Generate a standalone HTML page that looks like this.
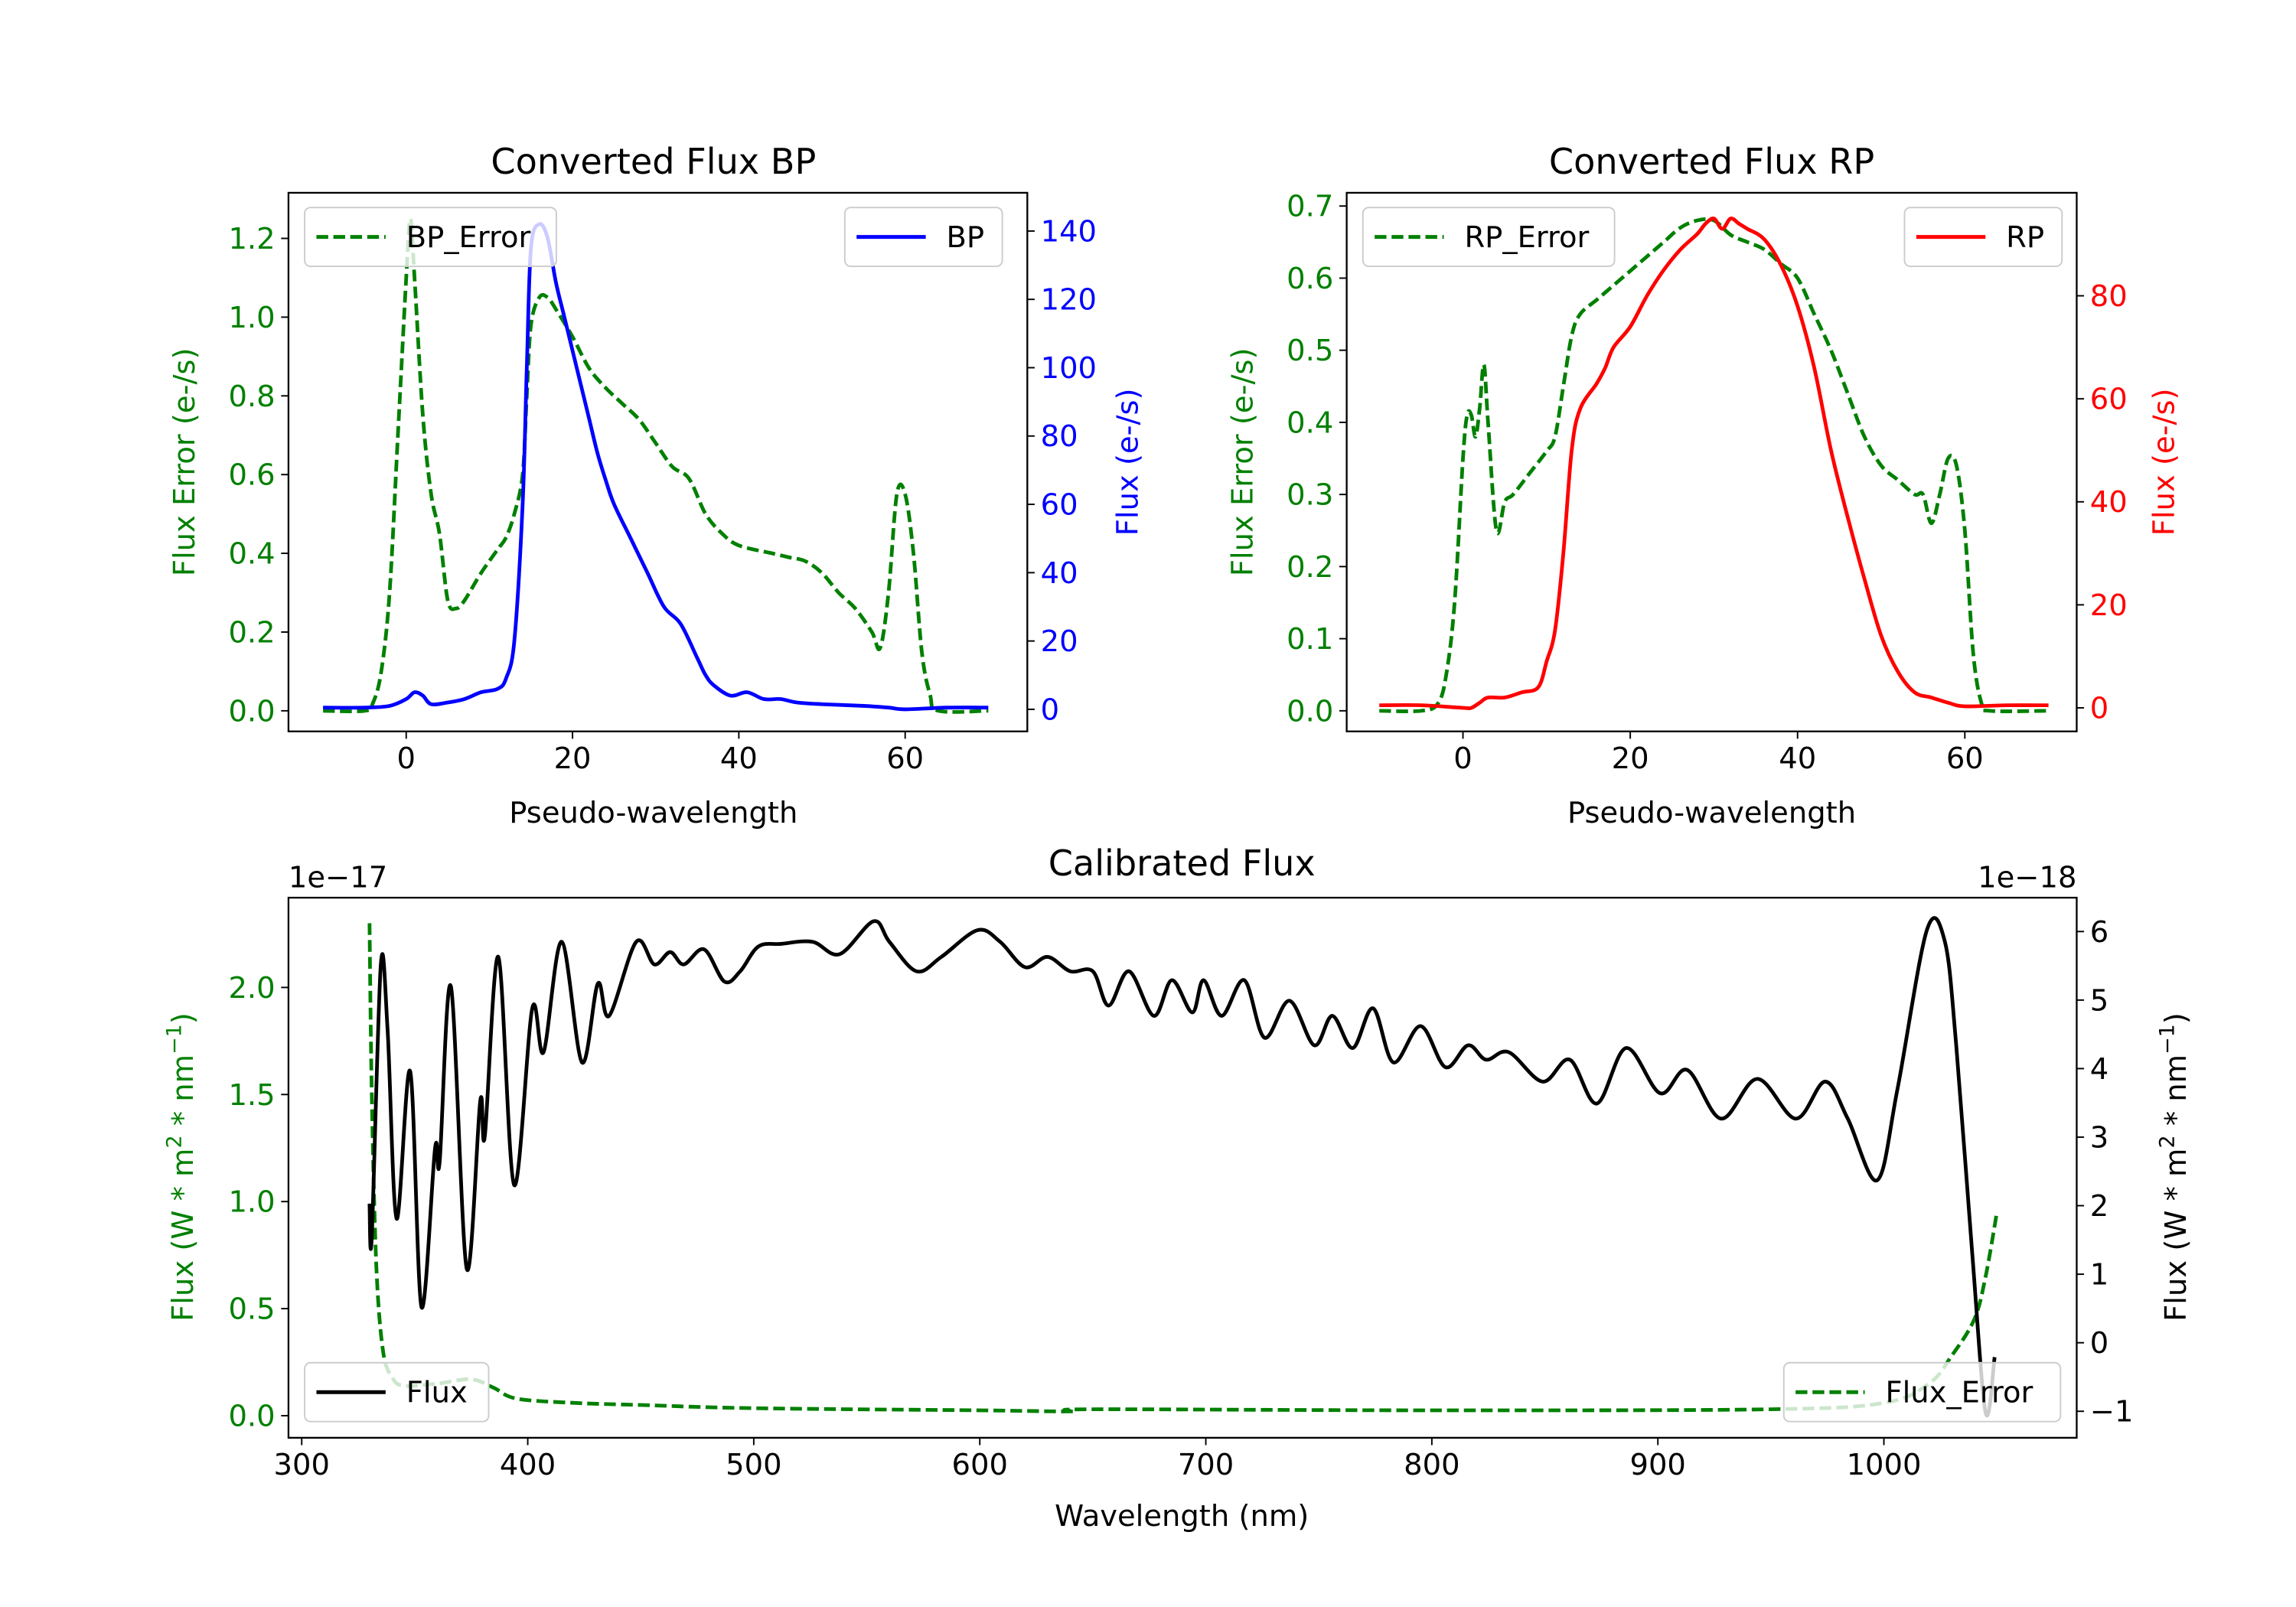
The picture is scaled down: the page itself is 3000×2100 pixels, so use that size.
<!DOCTYPE html>
<html><head><meta charset="utf-8">
<style>
html,body{margin:0;padding:0;background:#fff;}
svg{display:block;font-family:"DejaVu Sans","Liberation Sans",sans-serif;}
</style></head>
<body>
<svg id="fig" width="3000" height="2100" viewBox="0 0 1560 1092" preserveAspectRatio="none" xmlns="http://www.w3.org/2000/svg">
<rect width="1560" height="1092" fill="#fff"/>
</svg>
<script>
// ---------- data ----------
const bpX = [-10,-5,-2,0,1,2,3,5,7,9,11,12,13,14,14.5,15,16,17,18,19,20,21,22,23,24,25,27,29,31,33,35,36,37,39,41,43,45,47,50,55,58,60,65,70];
const bpFlux = [0.5,0.5,1,3,5,4,1.5,2,3,5,6,9,20,60,100,135,142,138,125,115,105,95,85,75,67,60,50,40,30,25,15,10,7,4,5,3,3,2,1.5,1,0.5,0,0.5,0.5];
const bpErrX = [-10,-5,-4,-3,-2,-1,0,0.5,1,2,3,4,5,6,7,9,11,12,13,14,14.5,15,16,17,18,20,22,24,26,28,30,32,34,36,38,40,44,46,48,50,52,54,56,57,58,59,60,61,62,63,64,70];
const bpErr = [0,0,0.02,0.1,0.3,0.7,1.1,1.25,1.1,0.75,0.55,0.45,0.28,0.26,0.28,0.35,0.41,0.44,0.5,0.6,0.8,0.98,1.05,1.05,1.02,0.95,0.87,0.82,0.78,0.74,0.68,0.62,0.59,0.5,0.45,0.42,0.4,0.39,0.38,0.35,0.3,0.26,0.2,0.16,0.3,0.55,0.55,0.4,0.15,0.04,0,0];
const rpX = [-10,-5,0,1,2,3,5,7,9,10,11,12,13,14,16,17,18,20,22,24,26,28,29,30,31,32,33,34,36,38,40,42,44,46,48,50,52,54,56,58,60,65,70];
const rpFlux = [0.5,0.5,0,0,1,2,2,3,4,9,15,30,50,58,63,66,70,74,80,85,89,92,94,95,93,95,94,93,91,86,78,66,50,37,25,14,7,3,2,1,0.3,0.5,0.5];
const rpErrX = [-10,-5,-3,-2,-1,0,0.5,1,1.5,2,2.5,3,4,5,6,8,10,11,12,13,14,16,18,20,22,24,26,28,30,32,34,36,38,40,42,44,46,48,50,52,54,55,56,57,58,59,60,61,62,63,70];
const rpErr = [0,0,0.01,0.05,0.15,0.35,0.41,0.41,0.38,0.42,0.48,0.4,0.25,0.29,0.3,0.33,0.36,0.38,0.45,0.52,0.55,0.57,0.59,0.61,0.63,0.65,0.67,0.68,0.68,0.66,0.65,0.64,0.62,0.6,0.55,0.5,0.44,0.38,0.34,0.32,0.3,0.3,0.26,0.3,0.35,0.34,0.25,0.08,0.01,0,0];
const calWl = [330,331,335,338,342,348,353,359,361,366,373,379,381,387,394,402,407,415,424,431,436,448,456,463,469,478,487,494,502,512,526,538,553,560,572,583,599,609,620,630,640,650,657,666,677,685,694,699,707,717,726,737,748,756,765,774,783,795,806,816,824,834,849,861,873,886,901,913,928,944,961,974,984,997,1006,1019,1027,1032,1039,1045,1049];
const calFlux = [2.03,1.55,5.52,4.56,1.81,3.96,0.52,2.84,2.63,5.2,1.08,3.53,3.01,5.63,2.3,4.88,4.24,5.85,4.09,5.24,4.77,5.85,5.52,5.7,5.52,5.74,5.27,5.42,5.78,5.82,5.85,5.67,6.15,5.85,5.42,5.63,6.02,5.85,5.48,5.63,5.42,5.42,4.92,5.42,4.77,5.29,4.82,5.29,4.77,5.29,4.45,4.99,4.34,4.77,4.3,4.88,4.09,4.62,4.02,4.34,4.13,4.24,3.81,4.13,3.49,4.3,3.64,3.98,3.27,3.85,3.27,3.81,3.27,2.37,3.7,6.02,5.85,4.34,1.34,-1.02,-0.21];
const errWl = [330,331,333,336,340,345,360,375,385,395,420,450,500,600,640,650,800,950,1000,1020,1030,1040,1045,1050];
const calErr = [2.3,1.5,0.7,0.3,0.18,0.14,0.15,0.17,0.13,0.08,0.06,0.05,0.035,0.025,0.02,0.03,0.025,0.03,0.06,0.15,0.28,0.45,0.65,0.95];
const bpXTicks = [0,20,40,60], bpLTicks = ["0.0","0.2","0.4","0.6","0.8","1.0","1.2"], bpRTicks = [0,20,40,60,80,100,120,140];
const rpXTicks = [0,20,40,60], rpLTicks = ["0.0","0.1","0.2","0.3","0.4","0.5","0.6","0.7"], rpRTicks = [0,20,40,60,80];
const calXTicks = [300,400,500,600,700,800,900,1000], calLTicks = ["0.0","0.5","1.0","1.5","2.0"], calRTicks = [-1,0,1,2,3,4,5,6];

// ---------- helpers ----------
const NS = "http://www.w3.org/2000/svg";
const FS = 20;
const svg = document.getElementById('fig');
function mk(tag, attrs, parent){ const e=document.createElementNS(NS,tag); for(const k in attrs) e.setAttribute(k,attrs[k]); (parent||svg).appendChild(e); return e; }
function txt(s, x, y, attrs, parent){ const t=mk('text',Object.assign({x:x,y:y,'font-size':FS},attrs),parent); t.textContent=s; return t; }
function lin(d0,d1,p0,p1){ return v=>p0+(v-d0)*(p1-p0)/(d1-d0); }
function smoothD(xs, ys, fx, fy){
  const P = xs.map((x,i)=>[fx(x),fy(ys[i])]);
  let d='M'+P[0][0]+','+P[0][1];
  for(let i=0;i<P.length-1;i++){
    const p0=P[Math.max(i-1,0)],p1=P[i],p2=P[i+1],p3=P[Math.min(i+2,P.length-1)];
    const c1=[p1[0]+(p2[0]-p0[0])/6,p1[1]+(p2[1]-p0[1])/6], c2=[p2[0]-(p3[0]-p1[0])/6,p2[1]-(p3[1]-p1[1])/6];
    d+='C'+c1[0].toFixed(2)+','+c1[1].toFixed(2)+' '+c2[0].toFixed(2)+','+c2[1].toFixed(2)+' '+p2[0].toFixed(2)+','+p2[1].toFixed(2);
  }
  return d;
}
function frame(g,x0,y0,x1,y1){ return mk('rect',{x:x0,y:y0,width:x1-x0,height:y1-y0,fill:'none',stroke:'#000','stroke-width':1.2},g); }
function xTicks(g,ticks,fx,yb){ ticks.forEach(t=>{ const x=fx(t); mk('line',{x1:x,y1:yb,x2:x,y2:yb+5,stroke:'#000','stroke-width':1},g); const l=txt(String(t),x,yb+25,{'text-anchor':'middle'},g);   }); }
function yTicksL(g,labels,fy,xl,col){ labels.forEach(s=>{ const y=fy(parseFloat(s)); mk('line',{x1:xl-5,y1:y,x2:xl,y2:y,stroke:'#000','stroke-width':1},g); const l=txt(s,xl-9,y+7,{'text-anchor':'end',fill:col},g);   }); }
function yTicksR(g,vals,fy,xr,col){ vals.forEach(v=>{ const y=fy(v); mk('line',{x1:xr,y1:y,x2:xr+5,y2:y,stroke:'#000','stroke-width':1},g); const l=txt(String(v).replace('-','\u2212'),xr+9,y+7,{'text-anchor':'start',fill:col},g);   }); }
function legend(g,x,y,w,label,col,dash,name){
  const lg=mk('g',{},g);
  
  
  mk('rect',{x:x,y:y,width:w,height:40,rx:4,fill:'#fff','fill-opacity':0.8,stroke:'#ccc','stroke-width':1},lg);
  mk('line',{x1:x+8,y1:y+20,x2:x+55,y2:y+20,stroke:col,'stroke-width':2.6,'stroke-dasharray':dash?'8,3.5':'none'},lg);
  txt(label,x+69,y+27,{},lg);
}
function vlabel(g,s,x,y,col,name){ const t=txt(s,x,y,{'text-anchor':'middle',fill:col,transform:'rotate(-90 '+x+' '+y+')'},g);   return t; }

// ---------- BP panel ----------
(function(){
  const g=mk('g',{});  
  const fx=lin(0,60,276,615), fyL=lin(0,1.2,483,162), fyR=lin(0,140,482,157);
  const clip=mk('clipPath',{id:'c1'},g); mk('rect',{x:196,y:131,width:502,height:366},clip);
  const e=mk('path',{d:smoothD(bpErrX,bpErr,fx,fyL),fill:'none',stroke:'green','stroke-width':2.5,'stroke-dasharray':'8,3.5','clip-path':'url(#c1)'},g);
   
  const f=mk('path',{d:smoothD(bpX,bpFlux,fx,fyR),fill:'none',stroke:'blue','stroke-width':2.5,'clip-path':'url(#c1)'},g);
   
  frame(g,196,131,698,497);
  xTicks(g,bpXTicks,fx,497); yTicksL(g,bpLTicks,fyL,196,'green'); yTicksR(g,bpRTicks,fyR,698,'blue');
  legend(g,207,141,171,'BP_Error','green',true,'bp-error-legend');
  legend(g,574,141,107,'BP','blue',false,'bp-legend');
  const t=txt('Converted Flux BP',444,118,{'text-anchor':'middle','font-size':24},g);  
  const xl=txt('Pseudo-wavelength',444,559,{'text-anchor':'middle'},g);  
  vlabel(g,'Flux Error (e-/s)',132,314,'green','bp-left-y-axis-title');
  vlabel(g,'Flux (e-/s)',773,314,'blue','bp-right-y-axis-title');
})();

// ---------- RP panel ----------
(function(){
  const g=mk('g',{});  
  const fx=lin(0,60,994,1335), fyL=lin(0,0.7,483,140), fyR=lin(0,80,481,201);
  const clip=mk('clipPath',{id:'c2'},g); mk('rect',{x:915,y:131,width:496,height:366},clip);
  const e=mk('path',{d:smoothD(rpErrX,rpErr,fx,fyL),fill:'none',stroke:'green','stroke-width':2.5,'stroke-dasharray':'8,3.5','clip-path':'url(#c2)'},g);
   
  const f=mk('path',{d:smoothD(rpX,rpFlux,fx,fyR),fill:'none',stroke:'red','stroke-width':2.5,'clip-path':'url(#c2)'},g);
   
  frame(g,915,131,1411,497);
  xTicks(g,rpXTicks,fx,497); yTicksL(g,rpLTicks,fyL,915,'green'); yTicksR(g,rpRTicks,fyR,1411,'red');
  legend(g,926,141,171,'RP_Error','green',true,'rp-error-legend');
  legend(g,1294,141,107,'RP','red',false,'rp-legend');
  const t=txt('Converted Flux RP',1163,118,{'text-anchor':'middle','font-size':24},g);  
  const xl=txt('Pseudo-wavelength',1163,559,{'text-anchor':'middle'},g);  
  vlabel(g,'Flux Error (e-/s)',851,314,'green','rp-left-y-axis-title');
  vlabel(g,'Flux (e-/s)',1477,314,'red','rp-right-y-axis-title');
})();

// ---------- Calibrated panel ----------
(function(){
  const g=mk('g',{});  
  const fx=lin(300,1000,205,1280), fyL=lin(0,2,962,671), fyR=lin(-1,6,959,633);
  const clip=mk('clipPath',{id:'c3'},g); mk('rect',{x:196,y:610,width:1215,height:367},clip);
  const e=mk('path',{d:smoothD(errWl,calErr,fx,fyL),fill:'none',stroke:'green','stroke-width':2.5,'stroke-dasharray':'8,3.5','clip-path':'url(#c3)'},g);
   
  const f=mk('path',{d:smoothD(calWl,calFlux,fx,fyR),fill:'none',stroke:'#000','stroke-width':2.5,'clip-path':'url(#c3)'},g);
   
  frame(g,196,610,1411,977);
  xTicks(g,calXTicks,fx,977); yTicksL(g,calLTicks,fyL,196,'green'); yTicksR(g,calRTicks,fyR,1411,'#000');
  legend(g,207,926,125,'Flux','#000',false,'flux-legend');
  legend(g,1212,926,188,'Flux_Error','green',true,'flux-error-legend');
  const t=txt('Calibrated Flux',803,595,{'text-anchor':'middle','font-size':24},g);  
  const o1=txt('1e\u221217',196,603,{},g);  
  const o2=txt('1e\u221218',1411,603,{'text-anchor':'end'},g);  
  const xl=txt('Wavelength (nm)',803,1037,{'text-anchor':'middle'},g);  
  const l1=vlabel(g,'',131,793,'green','calibrated-left-y-axis-title');
  l1.innerHTML='Flux (W * m<tspan dy="-8" font-size="14">2</tspan><tspan dy="8"> * nm</tspan><tspan dy="-8" font-size="14">\u22121</tspan><tspan dy="8">)</tspan>';
  const l2=vlabel(g,'',1485,793,'#000','calibrated-right-y-axis-title');
  l2.innerHTML='Flux (W * m<tspan dy="-8" font-size="14">2</tspan><tspan dy="8"> * nm</tspan><tspan dy="-8" font-size="14">\u22121</tspan><tspan dy="8">)</tspan>';
})();
</script>
</body></html>
